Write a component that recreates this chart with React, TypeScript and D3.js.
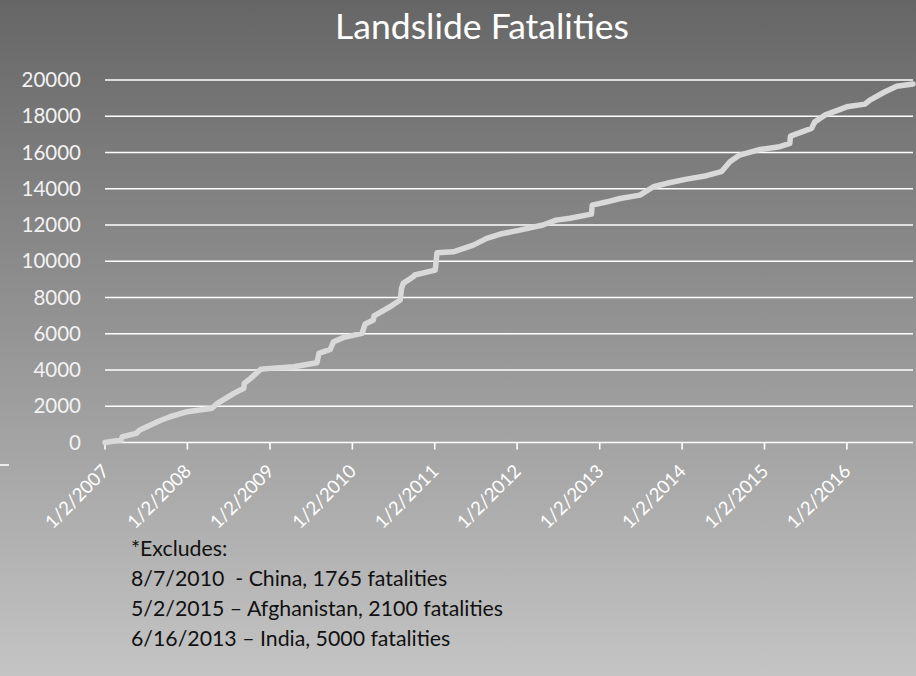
import React from "react";
import * as d3 from "d3";

// Cumulative landslide fatalities, sampled at the turning points of the series
const dates: string[] = [
  "2007-01-02", "2007-03-15", "2007-03-20", "2007-05-20", "2007-06-05", "2007-09-02",
  "2007-10-17", "2008-01-02", "2008-04-20", "2008-05-14", "2008-07-26", "2008-09-08",
  "2008-09-10", "2008-10-08", "2008-11-22", "2009-01-02", "2009-04-17", "2009-07-29",
  "2009-08-07", "2009-09-26", "2009-10-11", "2009-11-25", "2010-02-14", "2010-02-28",
  "2010-04-05", "2010-04-08", "2010-06-18", "2010-08-02", "2010-08-08", "2010-08-15",
  "2010-09-29", "2010-10-05", "2011-01-04", "2011-01-12", "2011-03-25", "2011-06-22",
  "2011-08-20", "2011-10-20", "2012-01-14", "2012-04-25", "2012-06-23", "2012-08-23",
  "2012-11-26", "2012-11-30", "2013-02-04", "2013-04-02", "2013-06-29", "2013-08-28",
  "2013-10-26", "2014-01-22", "2014-04-20", "2014-06-25", "2014-08-02", "2014-09-14",
  "2014-12-14", "2015-03-11", "2015-04-24", "2015-04-27", "2015-07-29", "2015-08-13",
  "2015-09-26", "2016-01-02", "2016-03-22", "2016-04-13", "2016-06-19", "2016-08-10",
  "2016-10-21",
];
const fatalities: number[] = [
  0, 140, 320, 500, 690, 1200,
  1420, 1700, 1890, 2160, 2710, 2990,
  3260, 3540, 4040, 4090, 4180, 4400,
  4920, 5140, 5560, 5800, 6020, 6540,
  6760, 6980, 7490, 7860, 8500, 8780,
  9150, 9240, 9510, 10470, 10520, 10890,
  11260, 11500, 11720, 12000, 12270, 12370,
  12600, 13100, 13280, 13460, 13650, 14110,
  14300, 14530, 14720, 14940, 15490, 15860,
  16170, 16320, 16500, 16900, 17330, 17690,
  18060, 18520, 18670, 18890, 19350, 19660,
  19780,
];

const yTicks: number[] = [0, 2000, 4000, 6000, 8000, 10000, 12000, 14000, 16000, 18000, 20000];
const xTickDates: string[] = [
  "2007-01-02", "2008-01-02", "2009-01-02", "2010-01-02", "2011-01-02",
  "2012-01-02", "2013-01-02", "2014-01-02", "2015-01-02", "2016-01-02",
];

const title = "Landslide Fatalities";
const notes: string[] = [
  "*Excludes:",
  "8/7/2010  - China, 1765 fatalities",
  "5/2/2015 \u2013 Afghanistan, 2100 fatalities",
  "6/16/2013 \u2013 India, 5000 fatalities",
];

const W = 916;
const H = 676;
const FONT = "Lato, 'Open Sans', sans-serif";

export default function App() {
  const parse = d3.timeParse("%Y-%m-%d");
  const fmt = d3.timeFormat("%-m/%-d/%Y");
  const points = dates.map((d, i) => ({ date: parse(d) as Date, value: fatalities[i] }));

  const x = d3
    .scaleTime()
    .domain([parse("2007-01-02") as Date, parse("2016-10-21") as Date])
    .range([105, 913]);
  const y = d3.scaleLinear().domain([0, 20000]).range([442.5, 80]);

  const line = d3
    .line<{ date: Date; value: number }>()
    .x((d) => x(d.date))
    .y((d) => y(d.value))
    .curve(d3.curveLinear);

  const [x0, x1] = x.range();

  return (
    <svg
      width={W}
      height={H}
      style={{ position: "absolute", left: 0, top: 0, display: "block" }}
    >
      <defs>
        <linearGradient id="bg" x1="0" y1="0" x2="0" y2="1">
          <stop offset="0" stopColor="#666666" />
          <stop offset="1" stopColor="#c4c4c4" />
        </linearGradient>
      </defs>
      <rect x={0} y={0} width={W} height={H} fill="url(#bg)" />

      <text
        x={482}
        y={39}
        textAnchor="middle"
        fontFamily={FONT}
        fontSize={35.5}
        fill="#ffffff"
      >
        {title}
      </text>

      {/* horizontal gridlines and value labels */}
      {yTicks.map((t) => (
        <g key={t}>
          <line x1={x0} x2={x1} y1={y(t)} y2={y(t)} stroke="#ffffff" strokeWidth={1.6} />
          <text
            x={81}
            y={y(t)}
            dy="0.35em"
            textAnchor="end"
            fontFamily={FONT}
            fontSize={20.5}
            fill="#f2f2f2"
          >
            {t}
          </text>
        </g>
      ))}

      {/* yearly tick marks and rotated date labels */}
      {xTickDates.map((s) => {
        const d = parse(s) as Date;
        const tx = x(d);
        return (
          <g key={s}>
            <line x1={tx} x2={tx} y1={y(0)} y2={y(0) + 7} stroke="#ffffff" strokeWidth={1.6} />
            <text
              transform={`translate(${tx + 5},${y(0) + 30}) rotate(-45)`}
              textAnchor="end"
              fontFamily={FONT}
              fontSize={18.5}
              fill="#ffffff"
            >
              {fmt(d)}
            </text>
          </g>
        );
      })}

      <line x1={0} x2={9} y1={465} y2={465} stroke="#ffffff" strokeWidth={1.6} />

      <path
        d={line(points) ?? ""}
        fill="none"
        stroke="#d9d9d9"
        strokeWidth={5.5}
        strokeLinejoin="round"
        strokeLinecap="round"
      />

      {notes.map((n, i) => (
        <text
          key={i}
          x={131}
          y={556 + i * 30}
          fontFamily={FONT}
          fontSize={21.3}
          fill="#111111"
          style={{ whiteSpace: "pre" }}
        >
          {n}
        </text>
      ))}
    </svg>
  );
}
